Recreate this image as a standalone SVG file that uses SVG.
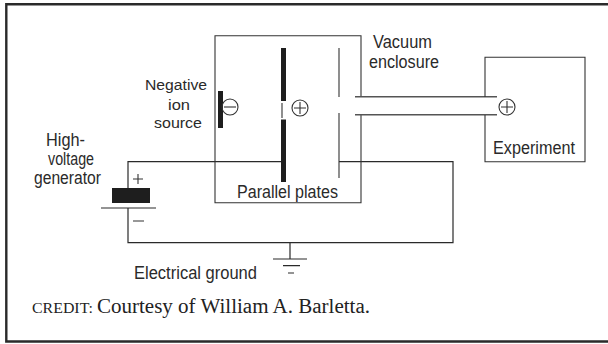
<svg xmlns="http://www.w3.org/2000/svg" width="608" height="344" viewBox="0 0 608 344">
<style>
.l{fill:none;stroke:#333;stroke-width:1.1}
.w{fill:none;stroke:#2a2a2a;stroke-width:1.2}
.g{fill:none;stroke:#555;stroke-width:1.4}
.b{fill:#1e1e1e}
text{font-family:"Liberation Sans",Arial,sans-serif;font-size:17.500px;fill:#2a2a2a}
.n{font-size:15.500px}
.c{font-family:"Liberation Serif","Times New Roman",serif;fill:#222}
</style>
<path d="M608 4.300H6.300V341.500H608" fill="none" stroke="#2a2a2a" stroke-width="2.400"/>
<g id="connectors">
<path class="w" d="M128 191V161.700H281M339 161.700H453V242.700H128V208M290 242.700V259"/>
<path class="w" d="M101 208H156M273 259H307M283 265.700H300M288 273H294"/>
</g>
<g id="vacuum-enclosure">
<path class="l" d="M361 97V35.700H215V202.700H361V115"/>
<path class="g" d="M355 96.700H497M355 114.700H497"/>
<text x="373" y="48" textLength="59" lengthAdjust="spacingAndGlyphs">Vacuum</text>
<text x="369" y="68" textLength="70" lengthAdjust="spacingAndGlyphs">enclosure</text>
</g>
<g id="parallel-plates">
<rect class="b" x="281" y="48" width="5" height="53"/>
<rect class="b" x="281" y="119.500" width="5" height="62.500"/>
<path class="l" d="M282 103V118M339 48V97M339 113V178"/>
<circle class="l" cx="300" cy="108" r="8"/>
<path class="l" d="M294 108H306M300 102V114"/>
<text x="237" y="198" textLength="101" lengthAdjust="spacingAndGlyphs">Parallel plates</text>
</g>
<g id="ion-source">
<rect class="b" x="218" y="91" width="5" height="37"/>
<circle class="l" cx="230" cy="107" r="8"/>
<path class="l" d="M224 107H236"/>
<text class="n" x="145" y="90" textLength="62" lengthAdjust="spacingAndGlyphs">Negative</text>
<text class="n" x="168" y="109.500" textLength="22" lengthAdjust="spacingAndGlyphs">ion</text>
<text class="n" x="154" y="127.500" textLength="48" lengthAdjust="spacingAndGlyphs">source</text>
</g>
<g id="experiment">
<path class="l" d="M485 97V57.300H585V161.700H485V115"/>
<circle class="l" cx="507" cy="107" r="8"/>
<path class="l" d="M501 107H513M507 101V113"/>
<text x="493" y="154" textLength="82" lengthAdjust="spacingAndGlyphs">Experiment</text>
</g>
<g id="generator">
<rect class="b" x="112" y="188" width="38" height="15"/>
<path class="l" d="M133 179H143M138 174V184M133 221H144"/>
<text x="46" y="146" textLength="39" lengthAdjust="spacingAndGlyphs">High-</text>
<text x="48" y="165" textLength="46" lengthAdjust="spacingAndGlyphs">voltage</text>
<text x="34" y="184" textLength="67" lengthAdjust="spacingAndGlyphs">generator</text>
</g>
<g id="ground">
<text x="134" y="279" textLength="123" lengthAdjust="spacingAndGlyphs">Electrical ground</text>
</g>
<g id="credit">
<text class="c" x="32" y="313" style="font-size:14px" textLength="61" lengthAdjust="spacingAndGlyphs">CREDIT:</text>
<text class="c" x="97" y="313" style="font-size:20px" textLength="273" lengthAdjust="spacingAndGlyphs">Courtesy of William A. Barletta.</text>
</g>
</svg>
